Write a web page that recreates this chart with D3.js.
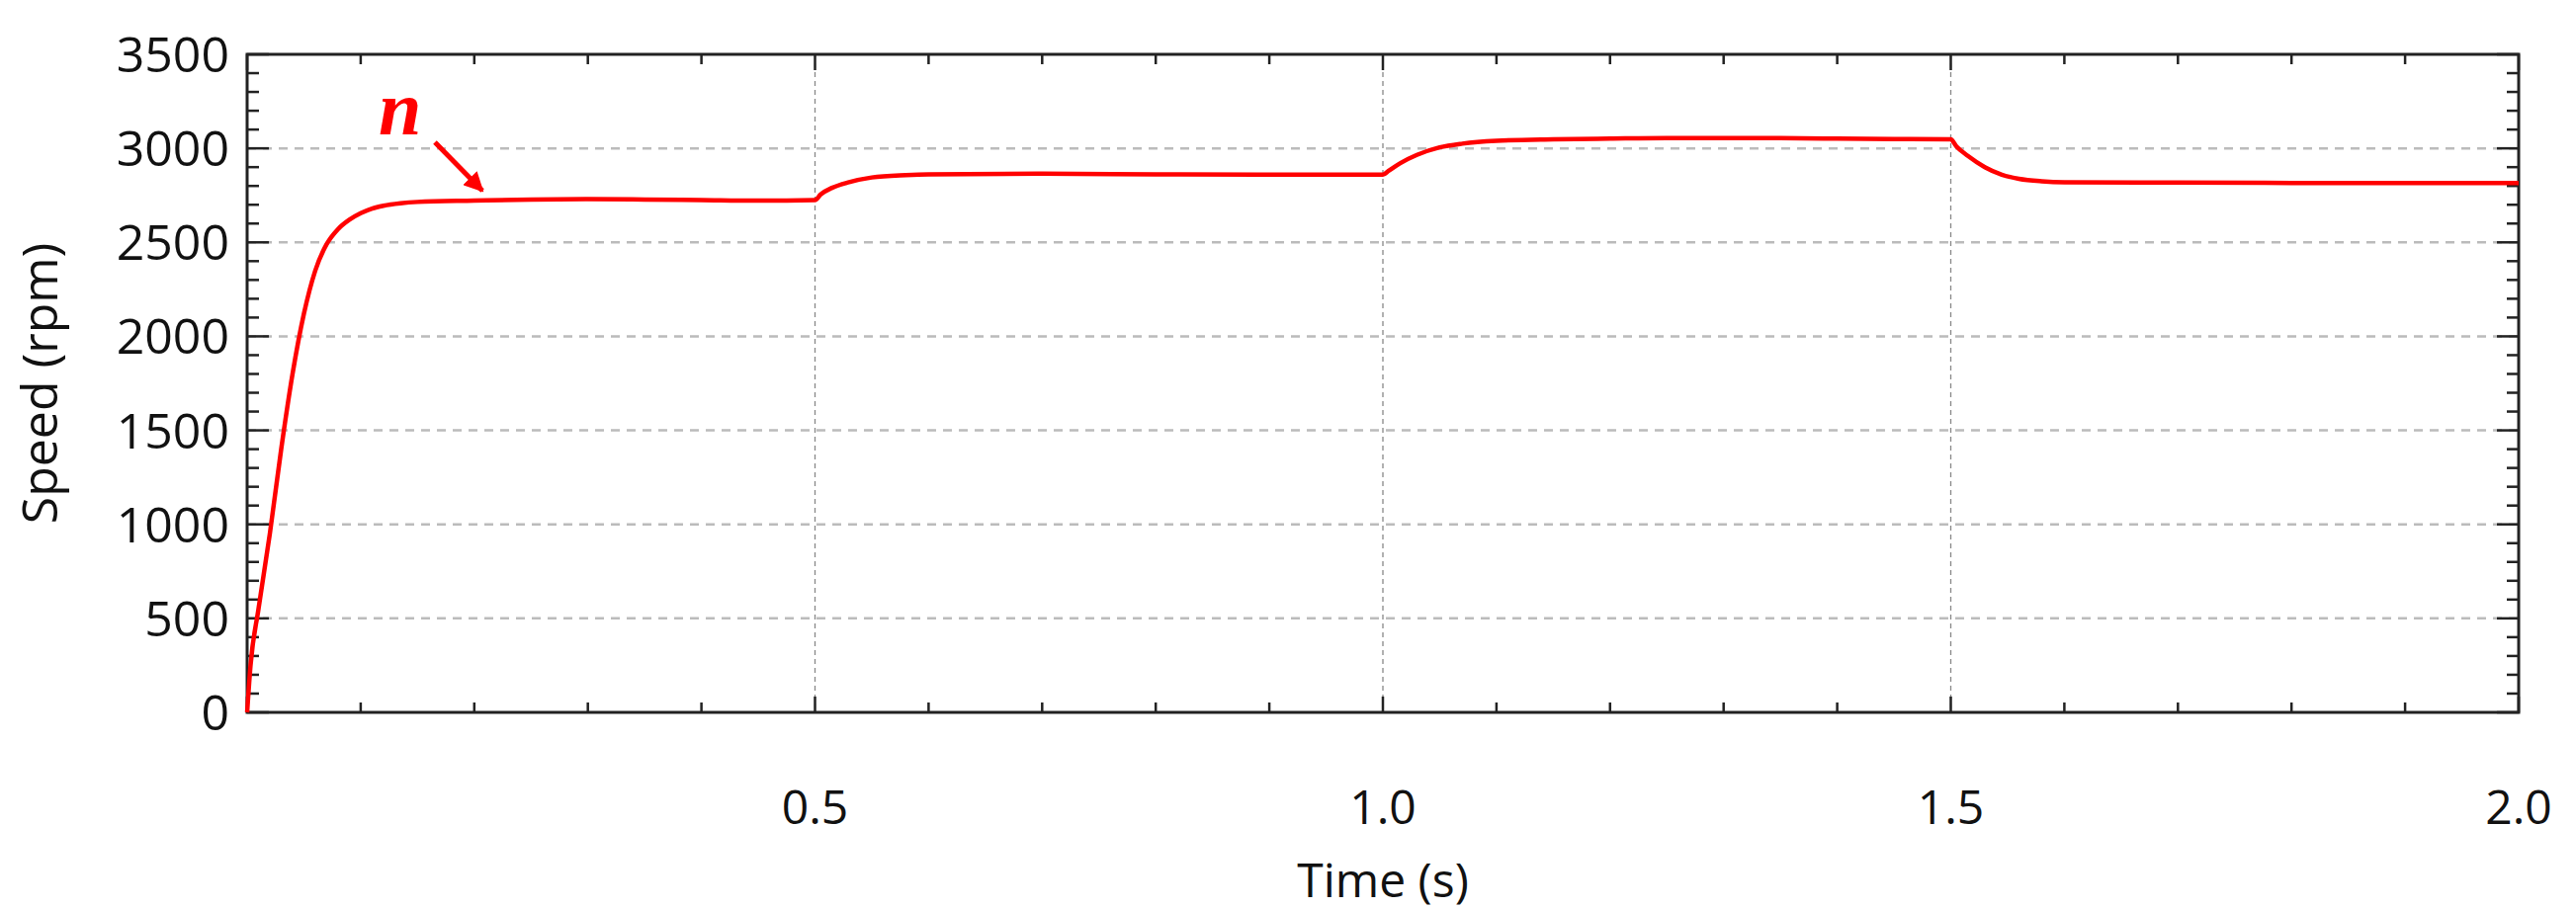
<!DOCTYPE html>
<html><head><meta charset="utf-8">
<script src="https://cdn.jsdelivr.net/npm/d3@7"></script>
<style>body{margin:0;background:#fff}</style></head>
<body><svg id="c" width="2606" height="919"></svg>
<script>
const timeS = [0,0.003,0.01,0.02,0.03,0.04,0.05,0.06,0.07,0.08,0.09,0.1,0.11,0.12,0.135,0.15,0.2,0.25,0.3,0.35,0.4,0.45,0.5,
  0.505,0.515,0.53,0.55,0.58,0.6,0.7,0.8,0.9,1.0,
  1.005,1.015,1.03,1.05,1.07,1.1,1.15,1.2,1.25,1.3,1.35,1.4,1.45,1.5,
  1.505,1.515,1.53,1.545,1.56,1.58,1.6,1.7,1.8,1.9,2.0];
const speedRpm = [0,250,550,950,1400,1800,2120,2350,2490,2570,2620,2655,2680,2695,2708,2715,2722,2728,2730,2728,2725,2722,2725,
  2755,2790,2820,2845,2858,2862,2865,2862,2860,2860,
  2880,2920,2965,3005,3025,3040,3048,3052,3055,3055,3054,3052,3050,3048,
  3010,2960,2900,2860,2838,2825,2820,2818,2816,2815,2815];
const yTicks = [0,500,1000,1500,2000,2500,3000,3500];
const xTicks = [0.5,1.0,1.5,2.0];
const xGrid = [0.5,1.0,1.5];

const svg = d3.select("#c");
const L=250,R=2548,T=55,B=721;
const x = d3.scaleLinear().domain([0,2]).range([L,R]);
const y = d3.scaleLinear().domain([0,3500]).range([B,T]);
const font = "'Open Sans','Noto Sans',sans-serif";

svg.append("g").selectAll("line").data(yTicks.slice(1,-1)).join("line")
  .attr("x1",L).attr("x2",R).attr("y1",d=>y(d)).attr("y2",d=>y(d))
  .attr("stroke","#bbb").attr("stroke-width",2.5).attr("stroke-dasharray","9,7");
svg.append("g").selectAll("line").data(xGrid).join("line")
  .attr("x1",d=>x(d)).attr("x2",d=>x(d)).attr("y1",T).attr("y2",B)
  .attr("stroke","#888").attr("stroke-width",1.3).attr("stroke-dasharray","5,4");

const tg = svg.append("g").attr("stroke","#222").attr("stroke-width",2.5);
d3.range(0,2.0001,0.1).forEach(v=>{
  const major = Math.abs(v*2-Math.round(v*2))<1e-6;
  const len = major?16:10;
  tg.append("line").attr("x1",x(v)).attr("x2",x(v)).attr("y1",B).attr("y2",B-len);
  tg.append("line").attr("x1",x(v)).attr("x2",x(v)).attr("y1",T).attr("y2",T+len);
});
d3.range(0,3501,100).forEach(v=>{
  const major = v%500===0;
  const len = major?22:12;
  tg.append("line").attr("x1",L).attr("x2",L+len).attr("y1",y(v)).attr("y2",y(v));
  tg.append("line").attr("x1",R).attr("x2",R-len).attr("y1",y(v)).attr("y2",y(v));
});
svg.append("rect").attr("x",L).attr("y",T).attr("width",R-L).attr("height",B-T)
  .attr("fill","none").attr("stroke","#222").attr("stroke-width",3);

svg.append("g").selectAll("text").data(yTicks).join("text")
  .attr("x",L-18).attr("y",d=>y(d)).attr("dy","0.36em").attr("text-anchor","end")
  .attr("font-family",font).attr("font-size",50).attr("fill","#111").text(d=>d);
svg.append("g").selectAll("text").data(xTicks).join("text")
  .attr("x",d=>x(d)).attr("y",834).attr("text-anchor","middle")
  .attr("font-family",font).attr("font-size",48).attr("fill","#111").text(d=>d.toFixed(1));
svg.append("text").attr("x",(L+R)/2).attr("y",908).attr("text-anchor","middle")
  .attr("font-family",font).attr("font-size",48).attr("fill","#111").text("Time (s)");
svg.append("text").attr("transform",`translate(58,${(T+B)/2}) rotate(-90)`).attr("text-anchor","middle")
  .attr("font-family",font).attr("font-size",50).attr("fill","#111").text("Speed (rpm)");

const pts = timeS.map((t,i)=>[t,speedRpm[i]]);
svg.append("path").datum(pts)
  .attr("d",d3.line().x(d=>x(d[0])).y(d=>y(d[1])).curve(d3.curveMonotoneX))
  .attr("fill","none").attr("stroke","#ff0000").attr("stroke-width",4.5);

svg.append("text").attr("x",383).attr("y",136).attr("font-family","'Liberation Serif',serif")
  .attr("font-style","italic").attr("font-weight","bold").attr("font-size",78).attr("fill","#ff0000").text("n");
svg.append("defs").append("marker").attr("id","ah").attr("viewBox","0 0 10 10").attr("refX",9).attr("refY",5)
  .attr("markerWidth",4).attr("markerHeight",4).attr("orient","auto")
  .append("path").attr("d","M0,0L10,5L0,10z").attr("fill","#ff0000");
svg.append("line").attr("x1",440).attr("y1",144).attr("x2",488).attr("y2",193)
  .attr("stroke","#ff0000").attr("stroke-width",5).attr("marker-end","url(#ah)");
</script></body></html>
